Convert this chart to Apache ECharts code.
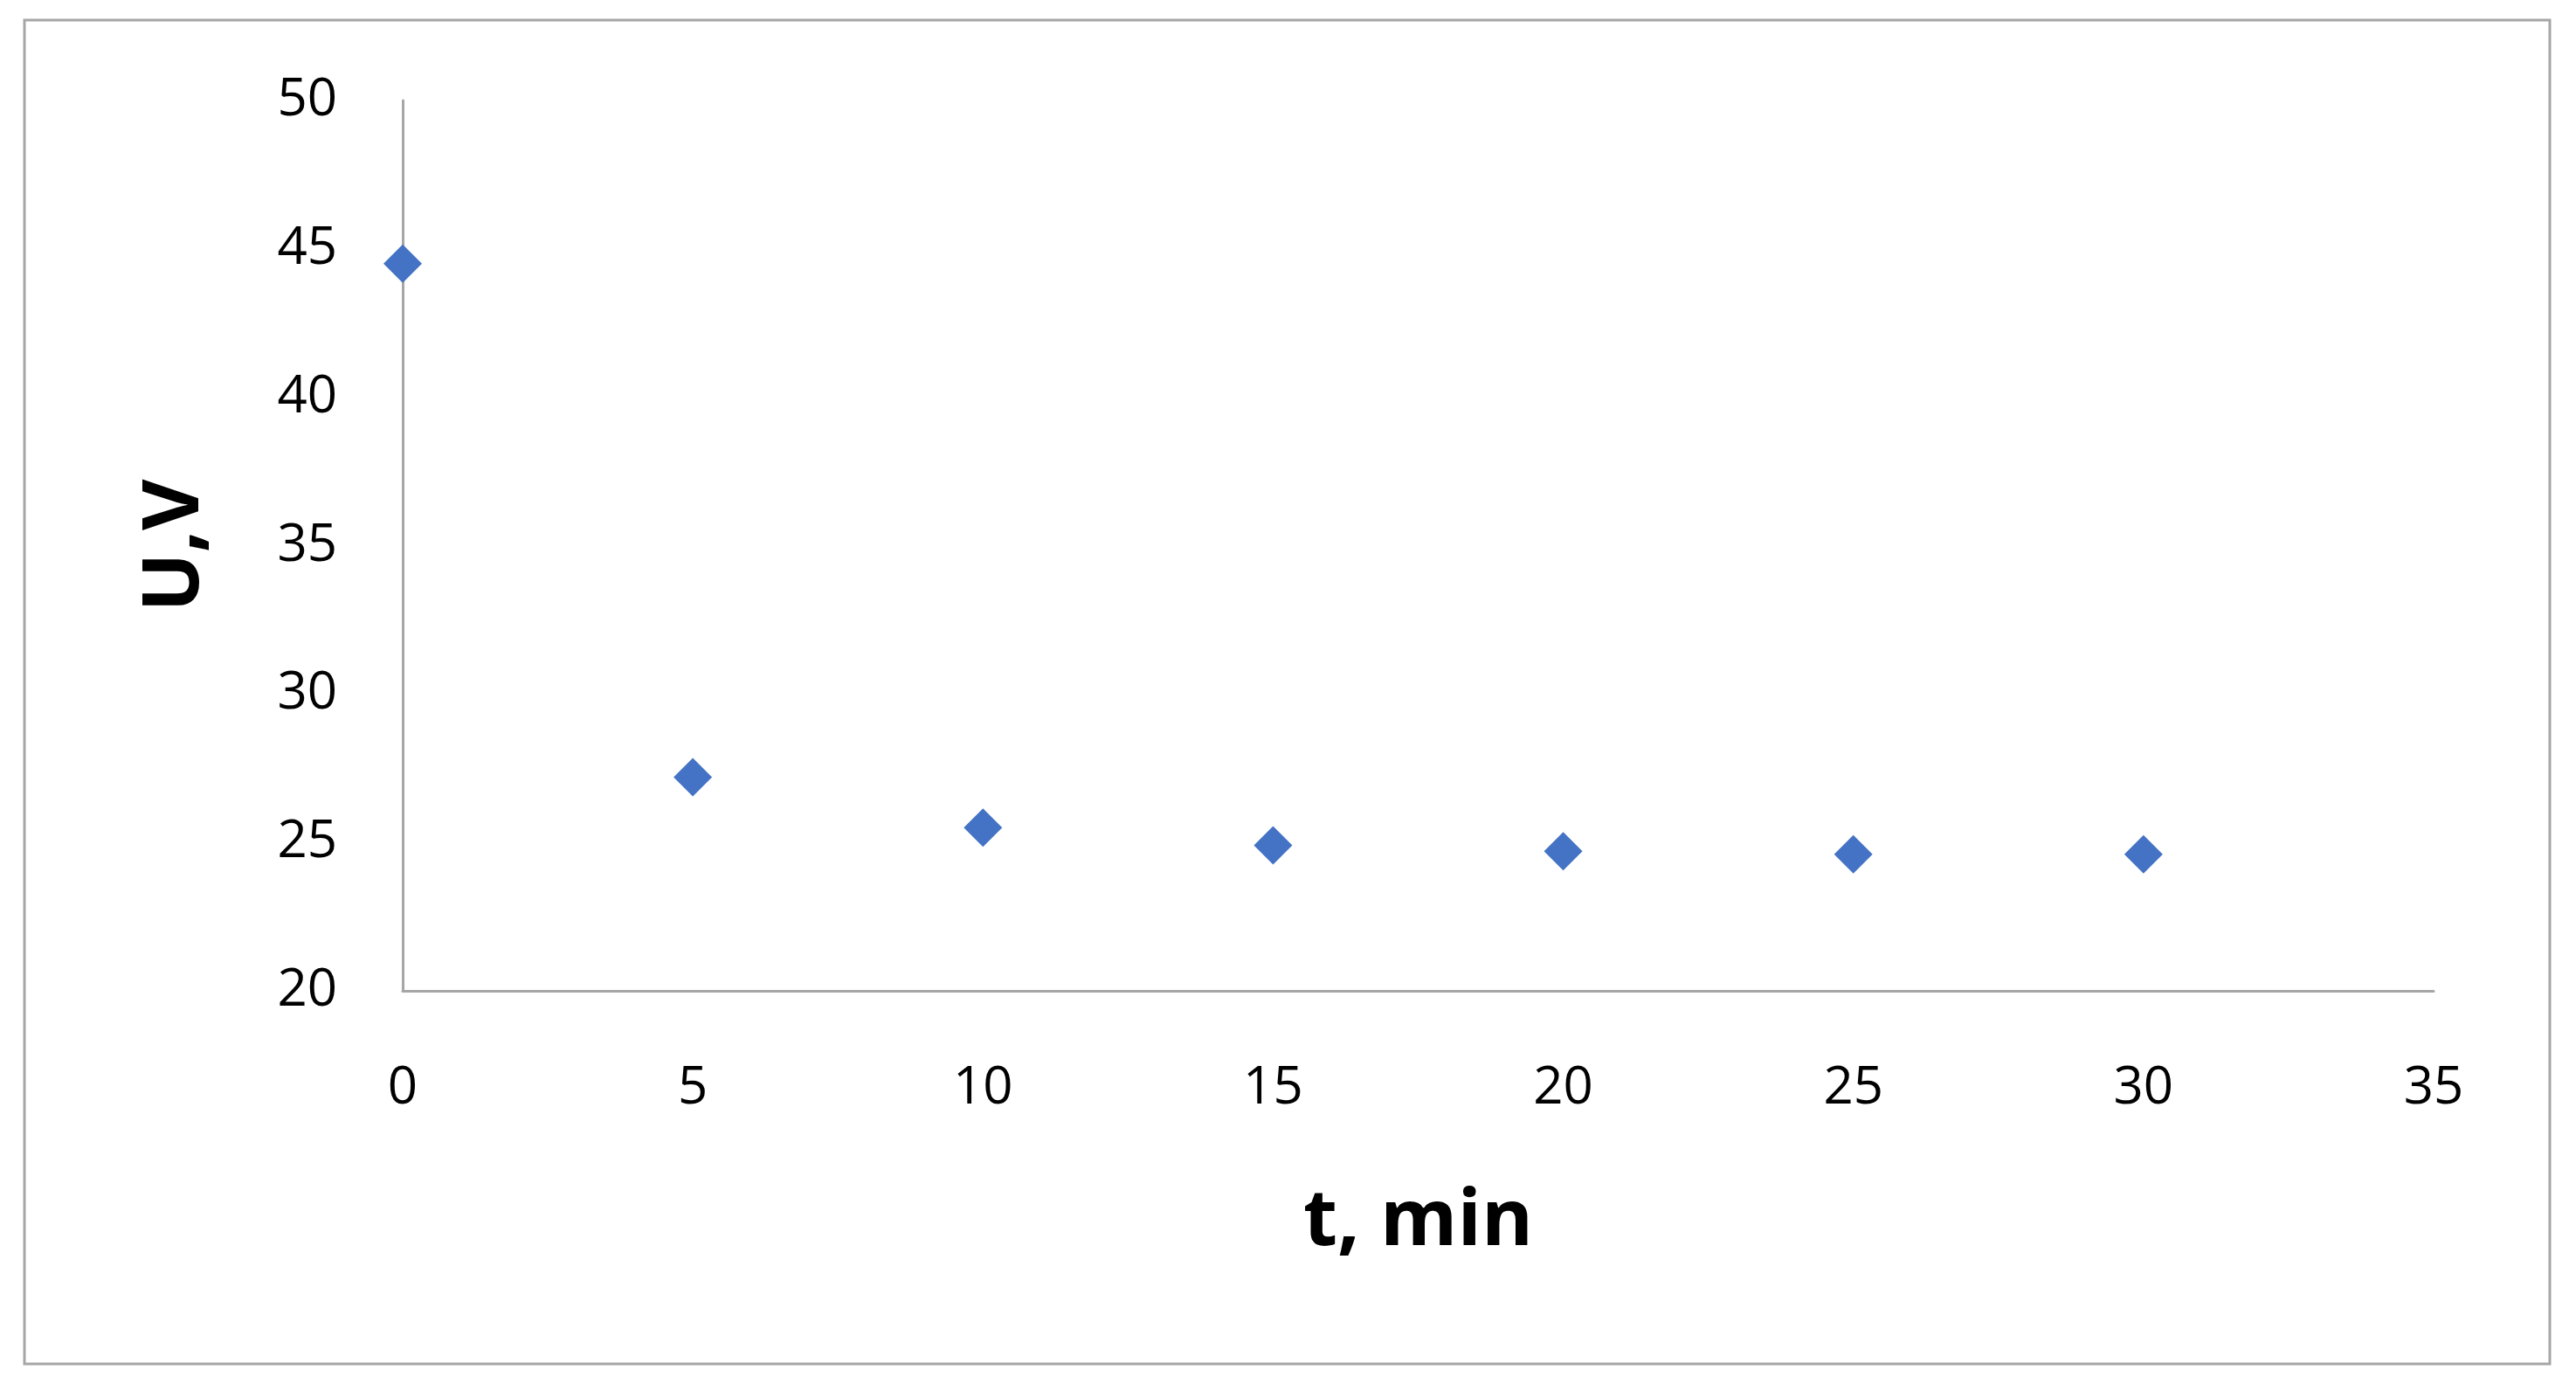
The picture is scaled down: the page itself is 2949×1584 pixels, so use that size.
<!DOCTYPE html>
<html><head><meta charset="utf-8">
<script src="https://cdn.jsdelivr.net/npm/echarts@6/dist/echarts.min.js"></script>
<style>html,body{margin:0;padding:0;background:#fff}#c{width:2949px;height:1584px}</style>
</head><body><div id="c"></div>
<script>
const tValues = [0, 5, 10, 15, 20, 25, 30];
const uValues = [44.5, 27.2, 25.5, 24.9, 24.7, 24.6, 24.6];
const chart = echarts.init(document.getElementById('c'));
const font = '"Open Sans", "Liberation Sans", sans-serif';
chart.setOption({
  animation: false,
  backgroundColor: '#fff',
  graphic: [{type:'rect', shape:{x:28,y:23,width:2891,height:1538}, style:{fill:'none', stroke:'#a6a6a6', lineWidth:3}}],
  grid: {left: 461, right: 2949-2786, top: 115, bottom: 1584-1134},
  xAxis: {type:'value', min:0, max:35, interval:5,
    name:'t, min', nameLocation:'middle', nameGap:220,
    nameTextStyle:{fontFamily:font, fontSize:90, fontWeight:'bold', color:'#000'},
    axisLine:{lineStyle:{color:'#a6a6a6', width:3}}, axisTick:{show:false}, splitLine:{show:false},
    axisLabel:{fontFamily:font, fontSize:60, color:'#000', margin:82}},
  yAxis: {type:'value', min:20, max:50, interval:5,
    name:'U,V', nameLocation:'middle', nameGap:215,
    nameTextStyle:{fontFamily:font, fontSize:90, fontWeight:'bold', color:'#000'},
    axisLine:{show:true, lineStyle:{color:'#a6a6a6', width:3}}, axisTick:{show:false}, splitLine:{show:false},
    axisLabel:{fontFamily:font, fontSize:60, color:'#000', margin:75}},
  series: [{type:'scatter', symbol:'diamond', symbolSize:44,
    itemStyle:{color:'#4472c4', opacity:1},
    data: tValues.map((t,i)=>[t,uValues[i]])}]
});
</script></body></html>
